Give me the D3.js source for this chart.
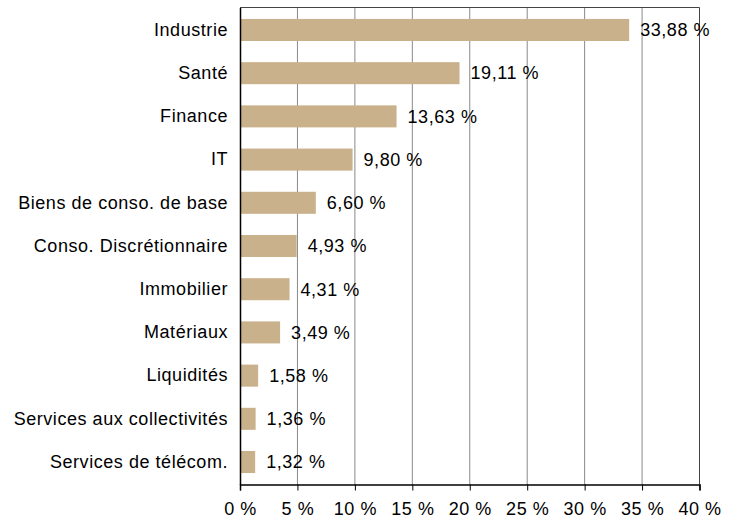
<!DOCTYPE html>
<html>
  <head>
    <script src="https://cdn.jsdelivr.net/npm/d3@7"></script>
    <style>
      body { margin: 0; background: #fff; }
      text { font-family: "Liberation Sans", Arial, sans-serif; }
    </style>
  </head>
  <body>
    <svg id="chart"></svg>
    <script>
      const categories = ["Industrie", "Santé", "Finance", "IT", "Biens de conso. de base",
        "Conso. Discrétionnaire", "Immobilier", "Matériaux", "Liquidités",
        "Services aux collectivités", "Services de télécom."]
      const values = [33.88, 19.11, 13.63, 9.80, 6.60, 4.93, 4.31, 3.49, 1.58, 1.36, 1.32]
      const ticks = [0, 5, 10, 15, 20, 25, 30, 35, 40]

      const margin = {top: 7.5, right: 35.5, bottom: 36.5, left: 240},
          width = 735 - margin.left - margin.right,
          height = 521 - margin.top - margin.bottom

      const fontSize = 18, spacing = "0.55px"

      const svg = d3.select("#chart").attr("width", 735).attr("height", 521)
      const g = svg.append("g").attr("transform", `translate(${margin.left}, ${margin.top})`)

      const xScale = d3.scaleLinear().domain([0, 40]).range([0, width])
      const yScale = d3.scaleBand().domain(categories).range([0, height])
        .paddingInner(0.49).paddingOuter(0.265)

      const fmt = v => v.toFixed(2).replace(".", ",") + " %"

      // gridlines
      g.append("g").selectAll("line")
        .data(ticks.slice(1))
        .enter().append("line")
        .attr("x1", d => xScale(d)).attr("x2", d => xScale(d))
        .attr("y1", 0).attr("y2", height)
        .attr("stroke", d => d === 40 ? "#444" : "#888")
        .attr("stroke-width", 1)

      // top border
      g.append("line").attr("x1", 0).attr("x2", width).attr("y1", 0).attr("y2", 0)
        .attr("stroke", "#444").attr("stroke-width", 1)

      // bars
      g.append("g").selectAll("rect")
        .data(values)
        .enter().append("rect")
        .attr("x", 0)
        .attr("y", (d, i) => yScale(categories[i]))
        .attr("width", d => xScale(d))
        .attr("height", yScale.bandwidth())
        .attr("fill", "#c9b18b")

      // value labels
      g.append("g").selectAll("text")
        .data(values)
        .enter().append("text")
        .attr("x", d => xScale(d) + 11)
        .attr("y", (d, i) => yScale(categories[i]) + yScale.bandwidth() / 2)
        .attr("dy", "0.35em")
        .attr("font-size", fontSize)
        .attr("letter-spacing", spacing)
        .attr("fill", "#000")
        .text(fmt)

      // x axis
      const xAxis = d3.axisBottom(xScale).tickValues(ticks).tickSize(6).tickPadding(12)
        .tickFormat(d => d + " %")
      const xg = g.append("g").attr("transform", `translate(0, ${height})`).call(xAxis)
      xg.select(".domain").attr("stroke", "#000").attr("stroke-width", 1.5)
      xg.selectAll(".tick line").attr("stroke", "#000")
      xg.selectAll("text").attr("font-size", fontSize).attr("fill", "#000")
        .attr("letter-spacing", spacing)
        .attr("font-family", "Liberation Sans, Arial, sans-serif")

      // y axis
      const yAxis = d3.axisLeft(yScale).tickSize(0).tickPadding(12)
      const yg = g.append("g").call(yAxis)
      yg.select(".domain").attr("stroke", "#000").attr("stroke-width", 1.5)
      yg.selectAll("text").attr("font-size", fontSize).attr("fill", "#000")
        .attr("letter-spacing", spacing)
        .attr("font-family", "Liberation Sans, Arial, sans-serif")
    </script>
  </body>
</html>
